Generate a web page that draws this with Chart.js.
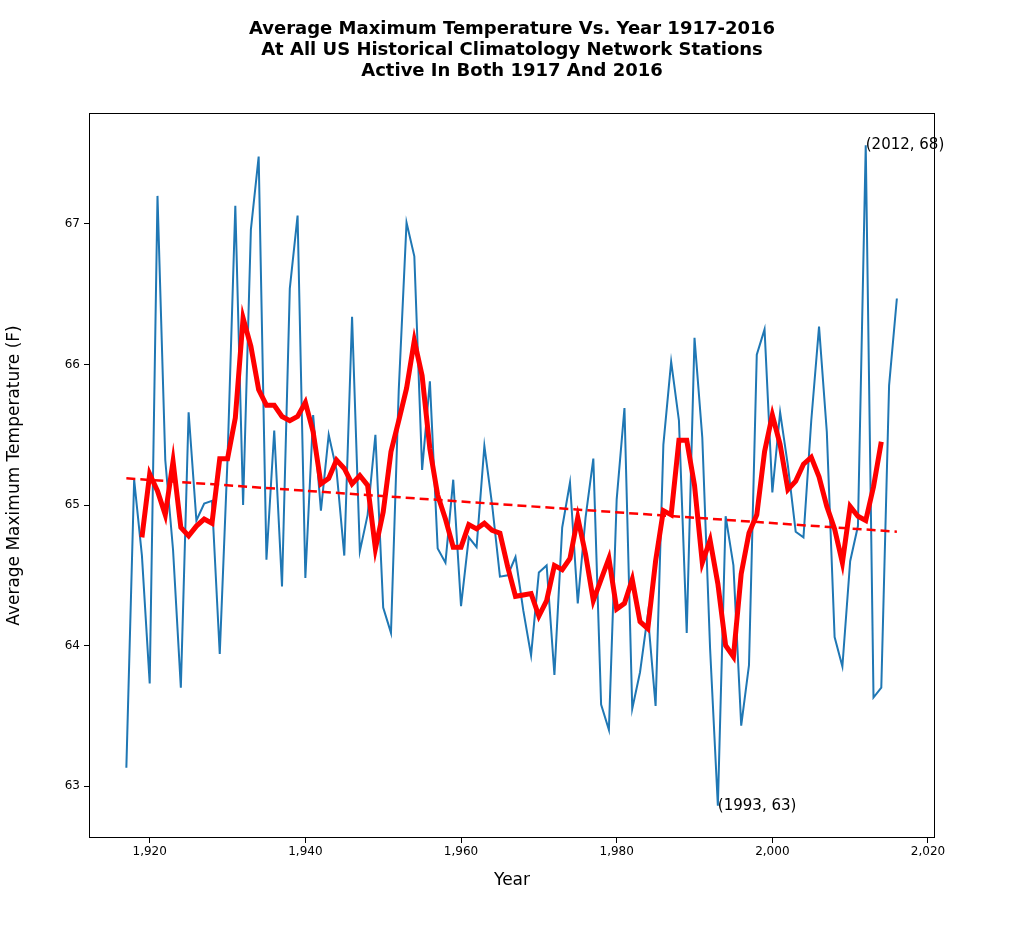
<!DOCTYPE html>
<html><head><meta charset="utf-8">
<script src="https://cdn.jsdelivr.net/npm/chart.js@4"></script>
<style>html,body{margin:0;padding:0;background:#fff}#w{width:1024px;height:951px}</style>
</head><body><div id="w"><canvas id="c"></canvas></div>
<script>
const years = [];
for (let y = 1917; y <= 2016; y++) years.push(y);
const tmax = [63.13,65.18,64.64,63.73,67.2,65.32,64.68,63.7,65.66,64.89,65.01,65.03,63.94,65.33,67.13,65.0,66.96,67.48,64.61,65.53,
64.42,66.54,67.06,64.48,65.64,64.96,65.5,65.25,64.64,66.34,64.67,64.93,65.5,64.27,64.09,65.82,67.01,66.77,65.25,65.88,
64.69,64.59,65.18,64.28,64.77,64.7,65.42,65.0,64.49,64.5,64.63,64.25,63.93,64.52,64.57,63.79,64.84,65.16,64.3,64.91,
65.33,63.58,63.4,65.04,65.69,63.55,63.81,64.22,63.57,65.43,66.02,65.6,64.09,66.19,65.48,63.98,62.86,64.92,64.57,63.43,
63.86,66.07,66.25,65.09,65.66,65.28,64.81,64.77,65.6,66.27,65.52,64.06,63.85,64.6,64.85,67.56,63.63,63.7,65.85,66.47];
const smoothYears = [];
for (let y = 1919; y <= 2014; y++) smoothYears.push(y);
const smooth = [64.77,65.22,65.1,64.93,65.31,64.84,64.78,64.85,64.9,64.87,65.33,65.33,65.62,66.33,66.13,65.82,65.71,65.71,65.63,65.6,
65.63,65.73,65.52,65.15,65.19,65.32,65.26,65.15,65.21,65.14,64.69,64.95,65.38,65.6,65.83,66.17,65.92,65.4,65.07,64.9,
64.7,64.7,64.86,64.83,64.87,64.82,64.8,64.56,64.35,64.36,64.37,64.21,64.32,64.57,64.54,64.62,64.91,64.65,64.32,64.47,
64.62,64.26,64.3,64.47,64.17,64.12,64.6,64.96,64.93,65.46,65.46,65.14,64.59,64.75,64.44,64.0,63.92,64.51,64.8,64.93,
65.38,65.64,65.43,65.11,65.17,65.29,65.34,65.2,64.99,64.83,64.59,64.99,64.92,64.89,65.13,65.45];
const trendYears = [1917, 2016];
const trend = [65.19, 64.81];
const annotations = [{x:2012, y:67.56, text:'(2012, 68)'}, {x:1993, y:62.86, text:'(1993, 63)'}];
const titleLines = ['Average Maximum Temperature Vs. Year 1917-2016','At All US Historical Climatology Network Stations','Active In Both 1917 And 2016'];

const pts = (xs, ys) => xs.map((x, i) => ({x, y: ys[i]}));
const F = 'DejaVu Sans';

const deco = {
  id: 'deco',
  afterDraw(ch) {
    const c = ch.ctx, a = ch.chartArea, xs = ch.scales.x, ys = ch.scales.y;
    c.save();
    c.strokeStyle = '#000'; c.lineWidth = 1;
    c.strokeRect(a.left + 0.5, a.top + 0.5, a.right - a.left - 1, a.bottom - a.top - 1);
    c.fillStyle = '#000';
    c.font = 'bold 18px ' + F; c.textAlign = 'center'; c.textBaseline = 'middle';
    titleLines.forEach((t, i) => c.fillText(t, 512, 29 + i * 21));
    c.font = '15px ' + F; c.textAlign = 'left'; c.textBaseline = 'middle';
    annotations.forEach(an => c.fillText(an.text, xs.getPixelForValue(an.x), ys.getPixelForValue(an.y)));
    c.restore();
  }
};

new Chart(document.getElementById('c'), {
  type: 'line',
  data: { datasets: [
    { data: pts(years, tmax), borderColor: '#1f77b4', borderWidth: 2, pointRadius: 0, tension: 0, order: 3 },
    { data: pts(smoothYears, smooth), borderColor: '#ff0000', borderWidth: 5, pointRadius: 0, tension: 0, order: 1 },
    { data: pts(trendYears, trend), borderColor: '#ff0000', borderWidth: 2.5, borderDash: [9, 5], pointRadius: 0, order: 2 }
  ]},
  options: {
    responsive: true, maintainAspectRatio: false, animation: false,
    layout: { padding: { top: 113, right: 89, bottom: 56, left: 0 } },
    plugins: { legend: { display: false }, tooltip: { enabled: false }, title: { display: false } },
    scales: {
      x: { type: 'linear', min: 1912.2, max: 2020.9,
        afterBuildTicks: s => { s.ticks = [1920,1940,1960,1980,2000,2020].map(v => ({value: v})); },
        afterFit: s => { s.height = 57; },
        grid: { drawOnChartArea: false, drawTicks: true, tickLength: 5, color: '#000' },
        border: { display: false },
        ticks: { color: '#000', font: { family: F, size: 12 }, padding: 2, maxRotation: 0 },
        title: { display: true, text: 'Year', color: '#000', font: { family: F, size: 17 }, padding: { top: 4 } } },
      y: { min: 62.63, max: 67.79,
        afterBuildTicks: s => { s.ticks = [63,64,65,66,67].map(v => ({value: v})); },
        afterFit: s => { s.width = 89; },
        grid: { drawOnChartArea: false, drawTicks: true, tickLength: 5, color: '#000' },
        border: { display: false },
        ticks: { color: '#000', font: { family: F, size: 12 }, padding: 4 },
        title: { display: true, text: 'Average Maximum Temperature (F)', color: '#000', font: { family: F, size: 17 }, padding: { bottom: 6 } } }
    }
  },
  plugins: [deco]
});
</script></body></html>
